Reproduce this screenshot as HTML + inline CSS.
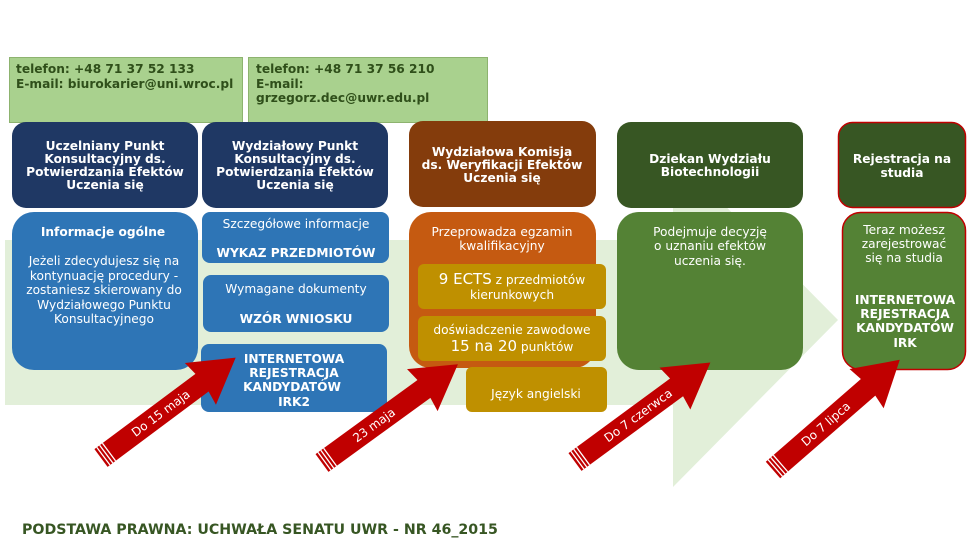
<!DOCTYPE html>
<html><head><meta charset="utf-8"><style>
html,body{margin:0;padding:0;background:#fff;}
svg{display:block;}
text{font-family:"DejaVu Sans","Liberation Sans",sans-serif;}
.h{font-weight:bold;font-size:12.2px;fill:#fff;text-anchor:middle;}
.b{font-size:12.2px;fill:#fff;text-anchor:middle;}
.c{font-weight:bold;font-size:12.2px;fill:#2f4f1a;}
.al{font-size:12px;fill:#fff;}
</style></head><body>
<svg width="970" height="546" viewBox="0 0 970 546" xmlns="http://www.w3.org/2000/svg">
<defs>
<g id="arr">
<polygon points="0,-11 126,-11 124,-26 168,0 124,26 126,11 0,11" fill="#c00000"/>
<line x1="3" y1="-11" x2="3" y2="11" stroke="#fff" stroke-width="1.3"/>
<line x1="6.5" y1="-11" x2="6.5" y2="11" stroke="#fff" stroke-width="1.3"/>
<line x1="10" y1="-11" x2="10" y2="11" stroke="#fff" stroke-width="1.3"/>
</g>
</defs>
<polygon points="5,240 673,240 673,153 838,320 673,487 673,405 5,405" fill="#e2efd9"/>
<rect x="9.5" y="57.5" width="233" height="65" fill="#a9d18e" stroke="#8db36f"/>
<rect x="248.5" y="57.5" width="239" height="65" fill="#a9d18e" stroke="#8db36f"/>
<text class="c" x="16" y="73">telefon: +48 71 37 52 133</text>
<text class="c" x="16" y="88">E-mail: biurokarier@uni.wroc.pl</text>
<text class="c" x="256" y="73">telefon: +48 71 37 56 210</text>
<text class="c" x="256" y="88">E-mail:</text>
<text class="c" x="256" y="102">grzegorz.dec@uwr.edu.pl</text>
<rect x="12" y="122" width="186" height="86" rx="14" fill="#1f3864"/>
<text class="h" x="105" y="150">Uczelniany Punkt</text>
<text class="h" x="105" y="163">Konsultacyjny ds.</text>
<text class="h" x="105" y="176">Potwierdzania Efektów</text>
<text class="h" x="105" y="189">Uczenia się</text>
<rect x="202" y="122" width="186" height="86" rx="14" fill="#1f3864"/>
<text class="h" x="295" y="150">Wydziałowy Punkt</text>
<text class="h" x="295" y="163">Konsultacyjny ds.</text>
<text class="h" x="295" y="176">Potwierdzania Efektów</text>
<text class="h" x="295" y="189">Uczenia się</text>
<rect x="409" y="121" width="187" height="86" rx="14" fill="#843c0c"/>
<text class="h" x="502" y="156">Wydziałowa Komisja</text>
<text class="h" x="502" y="169">ds. Weryfikacji Efektów</text>
<text class="h" x="502" y="182">Uczenia się</text>
<rect x="617" y="122" width="186" height="86" rx="14" fill="#375623"/>
<text class="h" x="710" y="163">Dziekan Wydziału</text>
<text class="h" x="710" y="176">Biotechnologii</text>
<rect x="838.5" y="122.5" width="127" height="85" rx="14" fill="#375623" stroke="#c00000" stroke-width="1.5"/>
<text class="h" x="902" y="163">Rejestracja na</text>
<text class="h" x="902" y="177">studia</text>
<rect x="12" y="212" width="186" height="158" rx="22" fill="#2e75b6"/>
<text class="h" x="103" y="236">Informacje ogólne</text>
<text class="b" x="104" y="265">Jeżeli zdecydujesz się na</text>
<text class="b" x="104" y="280">kontynuację procedury -</text>
<text class="b" x="104" y="294">zostaniesz skierowany do</text>
<text class="b" x="104" y="309">Wydziałowego Punktu</text>
<text class="b" x="104" y="323">Konsultacyjnego</text>
<rect x="202" y="212" width="187" height="51" rx="8" fill="#2e75b6"/>
<text class="b" x="296" y="228">Szczegółowe informacje</text>
<text class="h" x="296" y="257">WYKAZ PRZEDMIOTÓW</text>
<rect x="203" y="275" width="186" height="57" rx="8" fill="#2e75b6"/>
<text class="b" x="296" y="293">Wymagane dokumenty</text>
<text class="h" x="296" y="323">WZÓR WNIOSKU</text>
<rect x="201" y="344" width="186" height="68" rx="8" fill="#2e75b6"/>
<text class="h" x="294" y="363">INTERNETOWA</text>
<text class="h" x="294" y="377">REJESTRACJA</text>
<text class="h" x="292" y="391">KANDYDATÓW</text>
<text class="h" x="294" y="406">IRK2</text>
<rect x="409" y="212" width="187" height="156" rx="22" fill="#c55a11"/>
<text class="b" x="502" y="236">Przeprowadza egzamin</text>
<text class="b" x="502" y="250">kwalifikacyjny</text>
<rect x="617" y="212" width="186" height="158" rx="22" fill="#548235"/>
<text class="b" x="710" y="236">Podejmuje decyzję</text>
<text class="b" x="710" y="250">o uznaniu efektów</text>
<text class="b" x="710" y="265">uczenia się.</text>
<rect x="842.5" y="212.5" width="123" height="157" rx="18" fill="#548235" stroke="#c00000" stroke-width="1.5"/>
<text class="b" x="904" y="234">Teraz możesz</text>
<text class="b" x="904" y="248">zarejestrować</text>
<text class="b" x="904" y="262">się na studia</text>
<text class="h" x="905" y="304">INTERNETOWA</text>
<text class="h" x="905" y="318">REJESTRACJA</text>
<text class="h" x="905" y="332">KANDYDATÓW</text>
<text class="h" x="905" y="347">IRK</text>
<g transform="translate(101,458) rotate(-36.7)"><use href="#arr"/><text class="al" x="40" y="4">Do 15 maja</text></g>
<g transform="translate(322,463) rotate(-36)"><use href="#arr"/><text class="al" x="40" y="4">23 maja</text></g>
<rect x="418" y="264" width="188" height="45" rx="6" fill="#bf9000"/>
<text class="b" x="512" y="284"><tspan font-size="15">9 ECTS</tspan> z przedmiotów</text>
<text class="b" x="512" y="299">kierunkowych</text>
<rect x="418" y="316" width="188" height="45" rx="6" fill="#bf9000"/>
<text class="b" x="512" y="334">doświadczenie zawodowe</text>
<text class="b" x="512" y="351"><tspan font-size="15">15 na 20</tspan> punktów</text>
<rect x="466" y="367" width="141" height="45" rx="6" fill="#bf9000"/>
<text class="b" x="536" y="398">Język angielski</text>
<g transform="translate(575,462) rotate(-36.3)"><use href="#arr"/><text class="al" x="38" y="4">Do 7 czerwca</text></g>
<g transform="translate(773,470) rotate(-41)"><use href="#arr"/><text class="al" x="40" y="4">Do 7 lipca</text></g>
<text x="22" y="534" font-weight="bold" font-size="14.2" fill="#375623">PODSTAWA PRAWNA: UCHWAŁA SENATU UWR - NR 46_2015</text>
</svg>
</body></html>
